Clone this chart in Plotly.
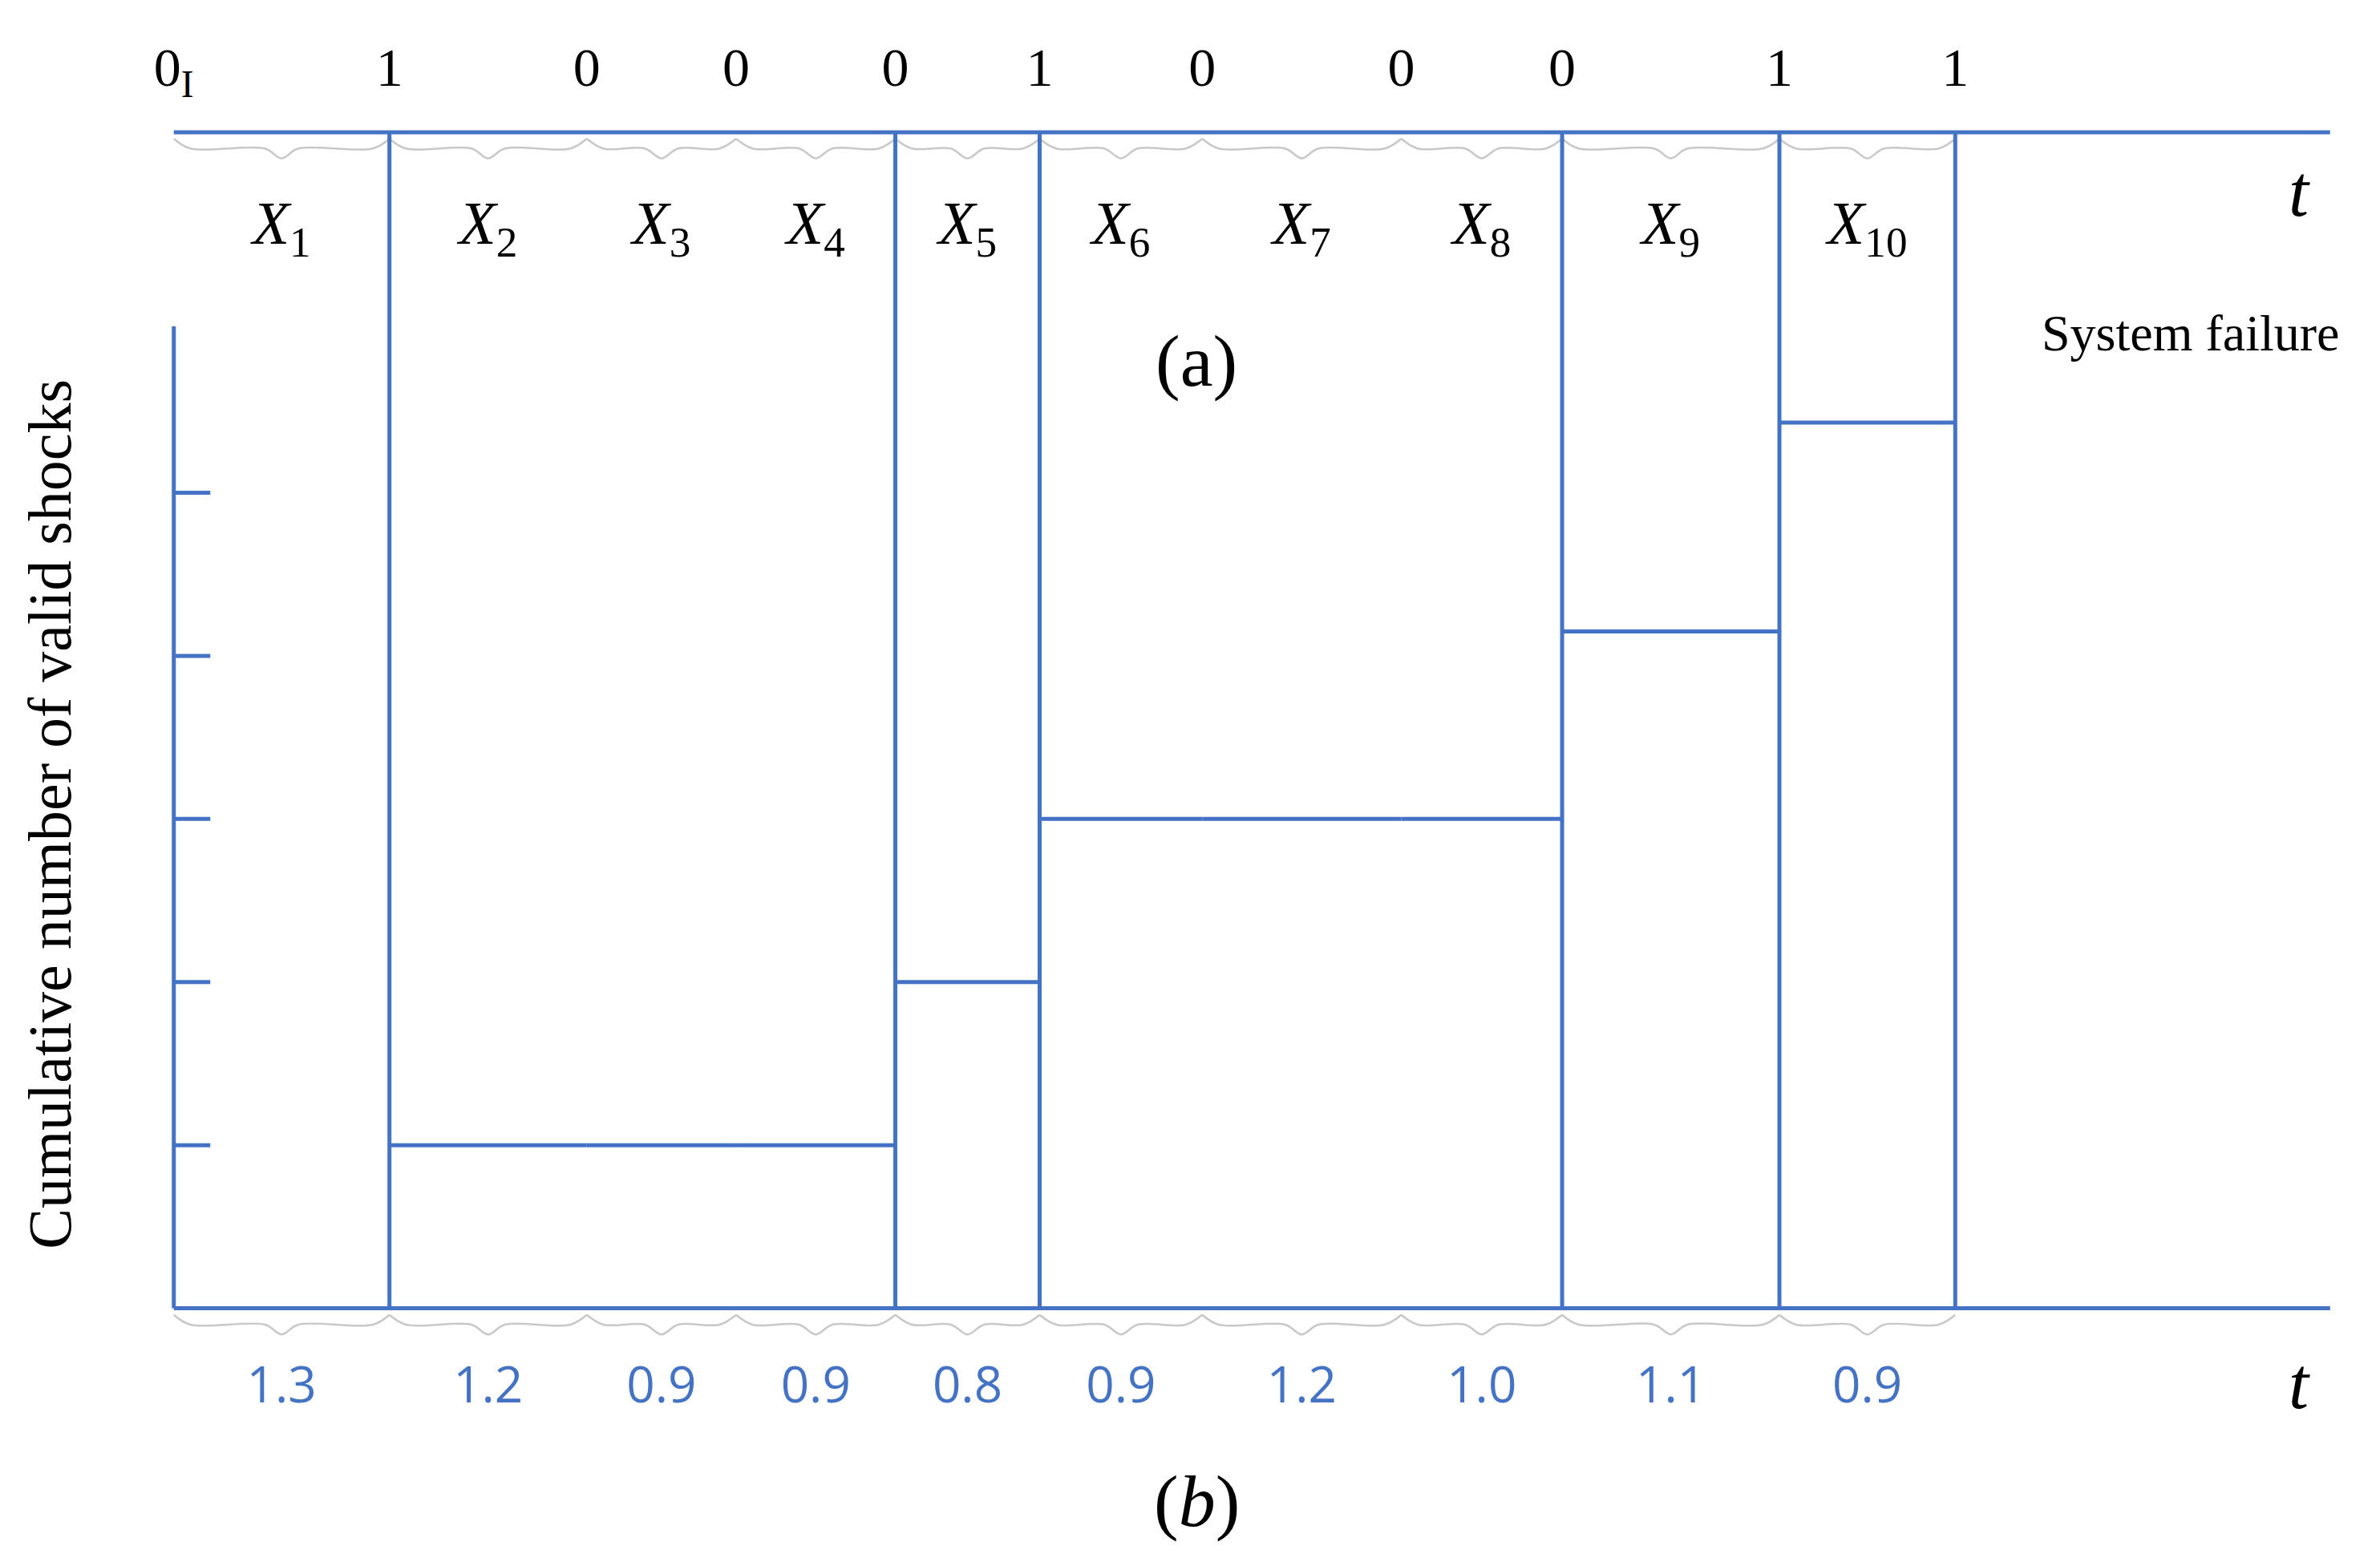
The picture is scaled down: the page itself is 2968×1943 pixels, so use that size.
import numpy as np
import plotly.graph_objects as go

# interval labels (b) and drawn interval lengths
durations = [1.3, 1.2, 0.9, 0.9, 0.8, 0.9, 1.2, 1.0, 1.1, 0.9]
drawn_lengths = [1.30, 1.19, 0.90, 0.96, 0.87, 0.98, 1.20, 0.97, 1.31, 1.06]
shock_flags = ['0<sub>I</sub>', '1', '0', '0', '0', '1', '0', '0', '0', '1', '1']
# cumulative number of valid shocks during each interval
levels = [0, 1, 1, 1, 2, 3, 3, 3, 4.15, 5.43]
y_ticks = [1, 2, 3, 4, 5]

BLUE = '#4472C4'
GRAY = '#C8C8C8'
TOP = 7.21       # level of the upper time axis
XEND = 13.0      # end of the time axes

bounds = np.concatenate([[0], np.cumsum(drawn_lengths)])
mids = (bounds[:-1] + bounds[1:]) / 2

fig = go.Figure()

# braces under both axes
def braces(y0, h):
    xs, ys = [], []
    for a, b in zip(bounds[:-1], bounds[1:]):
        m = (a + b) / 2
        d = 0.1
        xs += [a, a + d, m - d, m, m + d, b - d, b, None]
        ys += [y0, y0 - h, y0 - h, y0 - 2 * h, y0 - h, y0 - h, y0, None]
    return xs, ys

for y0 in [TOP - 0.04, -0.04]:
    bx, by = braces(y0, 0.06)
    fig.add_trace(go.Scatter(x=bx, y=by, mode='lines', line=dict(color=GRAY, width=2.5, shape='spline'),
                             hoverinfo='skip', showlegend=False))

# step curve: horizontal segments
hx, hy = [], []
for i in range(len(durations)):
    if levels[i] > 0:
        hx += [bounds[i], bounds[i + 1], None]
        hy += [levels[i], levels[i], None]
fig.add_trace(go.Scatter(x=hx, y=hy, mode='lines', line=dict(color=BLUE, width=5),
                         hoverinfo='skip', showlegend=False))

# vertical lines where the count changes and at system failure
vx, vy = [], []
for i in range(1, len(bounds)):
    nxt = levels[i] if i < len(levels) else None
    if nxt is None or nxt != levels[i - 1]:
        vx += [bounds[i], bounds[i], None]
        vy += [0, TOP, None]
fig.add_trace(go.Scatter(x=vx, y=vy, mode='lines', line=dict(color=BLUE, width=5),
                         hoverinfo='skip', showlegend=False))

# axes lines
ax_x = [0, XEND, None, 0, XEND, None, 0, 0, None]
ax_y = [TOP, TOP, None, 0, 0, None, 0, 6.02, None]
for t in y_ticks:
    ax_x += [0, 0.22, None]
    ax_y += [t, t, None]
fig.add_trace(go.Scatter(x=ax_x, y=ax_y, mode='lines', line=dict(color=BLUE, width=5),
                         hoverinfo='skip', showlegend=False))

# texts
serif = 'Times New Roman, Liberation Serif, serif'
fig.add_trace(go.Scatter(x=bounds, y=[7.58] * len(bounds), mode='text', text=shock_flags,
                         textfont=dict(family=serif, size=68, color='black'),
                         hoverinfo='skip', showlegend=False))
fig.add_trace(go.Scatter(x=mids, y=[6.62] * len(mids), mode='text',
                         text=['<i>X</i><sub>%d</sub>' % i for i in range(1, 11)],
                         textfont=dict(family=serif, size=76, color='black'),
                         hoverinfo='skip', showlegend=False))
fig.add_trace(go.Scatter(x=mids, y=[-0.5] * len(mids), mode='text',
                         text=['%.1f' % d for d in durations],
                         textfont=dict(family='Open Sans, sans-serif', size=62, color=BLUE),
                         hoverinfo='skip', showlegend=False))

fig.add_annotation(x=(782 - 110) / 109, y=5.81, text='(a)', showarrow=False,
                   font=dict(family=serif, size=92, color='black'))
fig.add_annotation(x=(782 - 110) / 109, y=-1.18, text='(<i>b</i>)', showarrow=False,
                   font=dict(family=serif, size=92, color='black'))
fig.add_annotation(x=(1435 - 110) / 109, y=5.98, text='System failure', showarrow=False,
                   font=dict(family=serif, size=64, color='black'))
for yy in [6.85, -0.46]:
    fig.add_annotation(x=(1507 - 110) / 109, y=yy, text='<i>t</i>', showarrow=False,
                       font=dict(family=serif, size=90, color='black'))
fig.add_annotation(x=(28 - 110) / 109, y=(854 - 530) / 107, text='Cumulative number of valid shocks',
                   textangle=-90, showarrow=False,
                   font=dict(family=serif, size=76, color='black'))

fig.update_xaxes(visible=False, range=[-110 / 109, (1564 - 110) / 109])
fig.update_yaxes(visible=False, range=[(854 - 1022) / 107, 854 / 107])
fig.update_layout(width=2968, height=1943, margin=dict(l=0, r=0, t=0, b=0),
                  plot_bgcolor='white', paper_bgcolor='white')

fig.write_html('out.html')
